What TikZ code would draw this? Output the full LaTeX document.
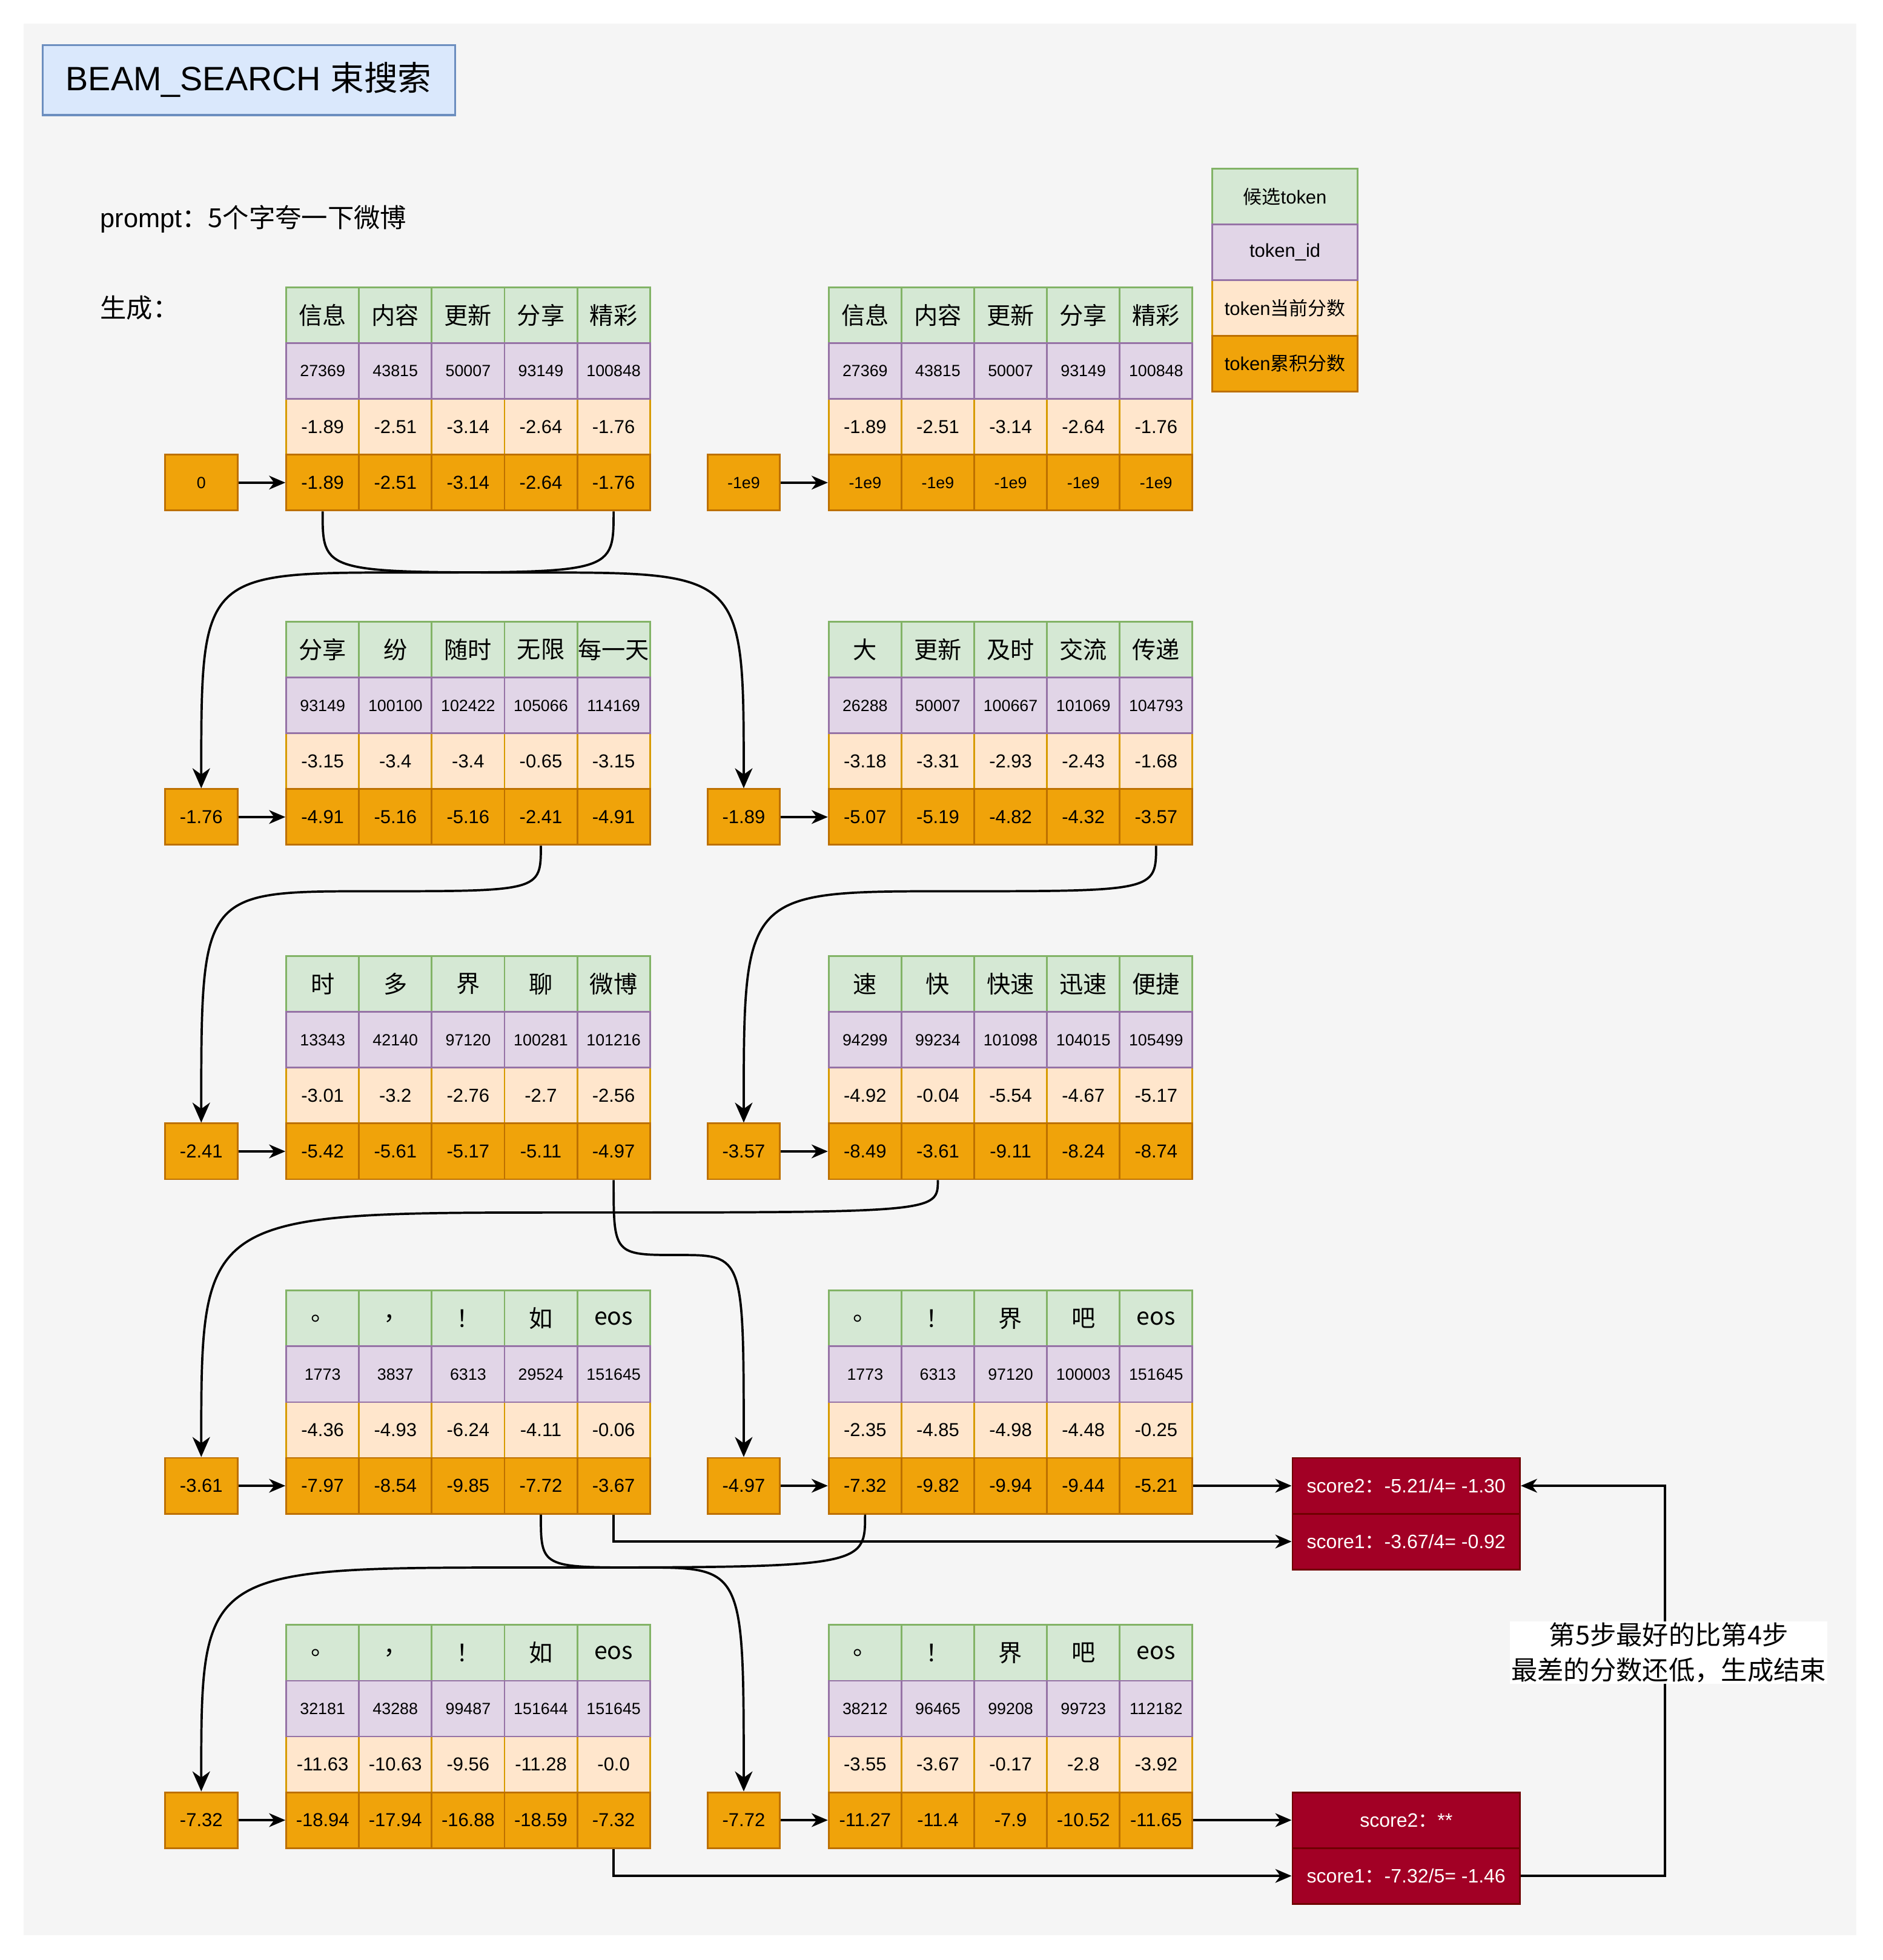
\documentclass[tikz,border=0pt]{standalone}
\usepackage{fontspec}
\setmainfont{Liberation Sans}
\newfontfamily\cjk{Noto Sans CJK SC}
\usetikzlibrary{arrows.meta,calc}

\definecolor{tokfill}{HTML}{D5E8D4}
\definecolor{tokline}{HTML}{82B366}
\definecolor{idfill}{HTML}{E1D5E7}
\definecolor{idline}{HTML}{9673A6}
\definecolor{curfill}{HTML}{FFE6CC}
\definecolor{curline}{HTML}{D79B00}
\definecolor{accfill}{HTML}{F0A30A}
\definecolor{accline}{HTML}{BD7000}
\definecolor{scorefill}{HTML}{A20025}
\definecolor{scoreline}{HTML}{6F0000}
\definecolor{titlefill}{HTML}{DAE8FC}
\definecolor{titleline}{HTML}{6C8EBF}
\definecolor{bgc}{HTML}{F5F5F5}

\newcommand{\curvelink}[3]{%
  \draw[curv] (#1.south) .. controls (#1.south |- 0,#3) .. ($(#1.south |- 0,#3)!0.5!(#2.north |- 0,#3)$) .. controls (#2.north |- 0,#3) .. (#2.north);}

\begin{document}
\begin{tikzpicture}[x=1pt,y=1pt,
  box/.style={draw,line width=1.4pt,inner sep=0pt,minimum width=58.2pt,minimum height=44.6pt,font=\fontsize{15}{18}\selectfont},
  tok/.style={box,fill=tokfill,draw=tokline,font=\fontsize{19}{21}\selectfont\cjk},
  tid/.style={box,fill=idfill,draw=idline,font=\fontsize{13}{15}\selectfont},
  cur/.style={box,fill=curfill,draw=curline},
  acc/.style={box,fill=accfill,draw=accline},
  startbox/.style={acc,minimum width=58pt},
  score/.style={box,fill=scorefill,draw=scoreline,text=white,minimum width=182pt,font=\fontsize{15.5}{18}\selectfont},
  legend/.style={box,minimum width=116pt,minimum height=44.5pt},
  arr/.style={line width=1.8pt,-{Stealth[length=13pt,width=11pt,inset=4pt]}},
  curv/.style={line width=1.8pt,-{Stealth[length=16pt,width=14pt,inset=5pt]}}]
                \useasboundingbox (0,0) rectangle (1506,-1568);
                \fill[bgc] (19,-19) rectangle (1485,-1548);

                \node[draw=titleline,fill=titlefill,line width=1.6pt,minimum width=330pt,minimum height=56pt,font=\fontsize{27}{30}\selectfont] at (199,-64) (title) {BEAM\_SEARCH {\cjk 束搜索}};
                \node[anchor=west,inner sep=0pt,font=\fontsize{21}{24}\selectfont] at (80,-175) (prompt) {prompt{\cjk ：5个字夸一下微博}};
                \node[anchor=west,inner sep=0pt,font=\fontsize{21}{24}\selectfont\cjk] at (80,-246) (gen) {生成：};

                \node[legend,fill=tokfill,draw=tokline] at (1028,-157.3) (lg1) {{\cjk 候选}token};
                \node[legend,fill=curfill,draw=curline] at (1028,-246.3) (lg3) {token{\cjk 当前分数}};
                \node[legend,fill=idfill,draw=idline] at (1028,-201.8) (lg2) {token\_id};
                \node[legend,fill=accfill,draw=accline] at (1028,-290.8) (lg4) {token{\cjk 累积分数}};

                \foreach \lbl [count=\col] in {信息,内容,更新,分享,精彩} \node[tok] at (199.9+58.2*\col,-252.3) (l1t\col) {\lbl};
                \foreach \lbl [count=\col] in {-1.89,-2.51,-3.14,-2.64,-1.76} \node[cur] at (199.9+58.2*\col,-341.5) (l1c\col) {\lbl};
                \foreach \lbl [count=\col] in {27369,43815,50007,93149,100848} \node[tid] at (199.9+58.2*\col,-296.9) (l1i\col) {\lbl};
                \foreach \lbl [count=\col] in {-1.89,-2.51,-3.14,-2.64,-1.76} \node[acc] at (199.9+58.2*\col,-386.1) (l1a\col) {\lbl};

                \foreach \lbl [count=\col] in {信息,内容,更新,分享,精彩} \node[tok] at (633.9+58.2*\col,-252.3) (r1t\col) {\lbl};
                \foreach \lbl [count=\col] in {-1.89,-2.51,-3.14,-2.64,-1.76} \node[cur] at (633.9+58.2*\col,-341.5) (r1c\col) {\lbl};
                \foreach \lbl [count=\col] in {27369,43815,50007,93149,100848} \node[tid] at (633.9+58.2*\col,-296.9) (r1i\col) {\lbl};
                \foreach \lbl [count=\col] in {-1e9,-1e9,-1e9,-1e9,-1e9} \node[acc,font=\fontsize{13}{15}\selectfont] at (633.9+58.2*\col,-386.1) (r1a\col) {\lbl};

                \foreach \lbl [count=\col] in {分享,纷,随时,无限,每一天} \node[tok] at (199.9+58.2*\col,-519.8) (l2t\col) {\lbl};
                \foreach \lbl [count=\col] in {-3.15,-3.4,-3.4,-0.65,-3.15} \node[cur] at (199.9+58.2*\col,-609) (l2c\col) {\lbl};
                \foreach \lbl [count=\col] in {93149,100100,102422,105066,114169} \node[tid] at (199.9+58.2*\col,-564.4) (l2i\col) {\lbl};
                \foreach \lbl [count=\col] in {-4.91,-5.16,-5.16,-2.41,-4.91} \node[acc] at (199.9+58.2*\col,-653.6) (l2a\col) {\lbl};

                \foreach \lbl [count=\col] in {大,更新,及时,交流,传递} \node[tok] at (633.9+58.2*\col,-519.8) (r2t\col) {\lbl};
                \foreach \lbl [count=\col] in {-3.18,-3.31,-2.93,-2.43,-1.68} \node[cur] at (633.9+58.2*\col,-609) (r2c\col) {\lbl};
                \foreach \lbl [count=\col] in {26288,50007,100667,101069,104793} \node[tid] at (633.9+58.2*\col,-564.4) (r2i\col) {\lbl};
                \foreach \lbl [count=\col] in {-5.07,-5.19,-4.82,-4.32,-3.57} \node[acc] at (633.9+58.2*\col,-653.6) (r2a\col) {\lbl};

                \foreach \lbl [count=\col] in {时,多,界,聊,微博} \node[tok] at (199.9+58.2*\col,-787.3) (l3t\col) {\lbl};
                \foreach \lbl [count=\col] in {-3.01,-3.2,-2.76,-2.7,-2.56} \node[cur] at (199.9+58.2*\col,-876.5) (l3c\col) {\lbl};
                \foreach \lbl [count=\col] in {13343,42140,97120,100281,101216} \node[tid] at (199.9+58.2*\col,-831.9) (l3i\col) {\lbl};
                \foreach \lbl [count=\col] in {-5.42,-5.61,-5.17,-5.11,-4.97} \node[acc] at (199.9+58.2*\col,-921.1) (l3a\col) {\lbl};

                \foreach \lbl [count=\col] in {速,快,快速,迅速,便捷} \node[tok] at (633.9+58.2*\col,-787.3) (r3t\col) {\lbl};
                \foreach \lbl [count=\col] in {-4.92,-0.04,-5.54,-4.67,-5.17} \node[cur] at (633.9+58.2*\col,-876.5) (r3c\col) {\lbl};
                \foreach \lbl [count=\col] in {94299,99234,101098,104015,105499} \node[tid] at (633.9+58.2*\col,-831.9) (r3i\col) {\lbl};
                \foreach \lbl [count=\col] in {-8.49,-3.61,-9.11,-8.24,-8.74} \node[acc] at (633.9+58.2*\col,-921.1) (r3a\col) {\lbl};

                \foreach \lbl [count=\col] in {。,，,！,如,eos} \node[tok] at (199.9+58.2*\col,-1054.8) (l4t\col) {\lbl};
                \foreach \lbl [count=\col] in {-4.36,-4.93,-6.24,-4.11,-0.06} \node[cur] at (199.9+58.2*\col,-1144) (l4c\col) {\lbl};
                \foreach \lbl [count=\col] in {1773,3837,6313,29524,151645} \node[tid] at (199.9+58.2*\col,-1099.4) (l4i\col) {\lbl};
                \foreach \lbl [count=\col] in {-7.97,-8.54,-9.85,-7.72,-3.67} \node[acc] at (199.9+58.2*\col,-1188.6) (l4a\col) {\lbl};

                \foreach \lbl [count=\col] in {。,！,界,吧,eos} \node[tok] at (633.9+58.2*\col,-1054.8) (r4t\col) {\lbl};
                \foreach \lbl [count=\col] in {-2.35,-4.85,-4.98,-4.48,-0.25} \node[cur] at (633.9+58.2*\col,-1144) (r4c\col) {\lbl};
                \foreach \lbl [count=\col] in {1773,6313,97120,100003,151645} \node[tid] at (633.9+58.2*\col,-1099.4) (r4i\col) {\lbl};
                \foreach \lbl [count=\col] in {-7.32,-9.82,-9.94,-9.44,-5.21} \node[acc] at (633.9+58.2*\col,-1188.6) (r4a\col) {\lbl};

                \foreach \lbl [count=\col] in {。,，,！,如,eos} \node[tok] at (199.9+58.2*\col,-1322.3) (l5t\col) {\lbl};
                \foreach \lbl [count=\col] in {-11.63,-10.63,-9.56,-11.28,-0.0} \node[cur] at (199.9+58.2*\col,-1411.5) (l5c\col) {\lbl};
                \foreach \lbl [count=\col] in {32181,43288,99487,151644,151645} \node[tid] at (199.9+58.2*\col,-1366.9) (l5i\col) {\lbl};
                \foreach \lbl [count=\col] in {-18.94,-17.94,-16.88,-18.59,-7.32} \node[acc] at (199.9+58.2*\col,-1456.1) (l5a\col) {\lbl};

                \foreach \lbl [count=\col] in {。,！,界,吧,eos} \node[tok] at (633.9+58.2*\col,-1322.3) (r5t\col) {\lbl};
                \foreach \lbl [count=\col] in {-3.55,-3.67,-0.17,-2.8,-3.92} \node[cur] at (633.9+58.2*\col,-1411.5) (r5c\col) {\lbl};
                \foreach \lbl [count=\col] in {38212,96465,99208,99723,112182} \node[tid] at (633.9+58.2*\col,-1366.9) (r5i\col) {\lbl};
                \foreach \lbl [count=\col] in {-11.27,-11.4,-7.9,-10.52,-11.65} \node[acc] at (633.9+58.2*\col,-1456.1) (r5a\col) {\lbl};

                \node[startbox,font=\fontsize{13}{15}\selectfont] at (161,-386.1) (l1s) {0};
                \node[startbox,font=\fontsize{13}{15}\selectfont] at (595,-386.1) (r1s) {-1e9};
                \node[startbox] at (161,-653.6) (l2s) {-1.76};
                \node[startbox] at (595,-653.6) (r2s) {-1.89};
                \node[startbox] at (161,-921.1) (l3s) {-2.41};
                \node[startbox] at (595,-921.1) (r3s) {-3.57};
                \node[startbox] at (161,-1188.6) (l4s) {-3.61};
                \node[startbox] at (595,-1188.6) (r4s) {-4.97};
                \node[startbox] at (161,-1456.1) (l5s) {-7.32};
                \node[startbox] at (595,-1456.1) (r5s) {-7.72};

                \node[score] at (1125,-1188.6) (s4a) {score2{\cjk ：}-5.21/4= -1.30};
                \node[score] at (1125,-1233.2) (s4b) {score1{\cjk ：}-3.67/4= -0.92};
                \node[score] at (1125,-1456.1) (s5a) {score2{\cjk ：}**};
                \node[score] at (1125,-1500.7) (s5b) {score1{\cjk ：}-7.32/5= -1.46};

                \foreach \row in {1,...,5} {
                  \draw[arr] (l\row s) -- (l\row a1);
                  \draw[arr] (r\row s) -- (r\row a1);
                }

                \curvelink{l1a1}{r2s}{-458}
                \curvelink{l1a5}{l2s}{-458}
                \curvelink{l2a4}{l3s}{-713}
                \curvelink{r2a5}{r3s}{-713}
                \curvelink{r3a2}{l4s}{-970}
                \curvelink{l3a5}{r4s}{-1004}
                \curvelink{l4a4}{r5s}{-1254}
                \curvelink{r4a1}{l5s}{-1254}

                \draw[arr] (r4a5) -- (s4a);
                \draw[arr] (l4a5.south) |- (s4b.west);
                \draw[arr] (r5a5) -- (s5a);
                \draw[arr] (l5a5.south) |- (s5b.west);

                \coordinate (turn) at (1332,-1344);
                \draw[arr] (s5b.east) -| (turn) |- (s4a.east);
                \node[fill=white,inner sep=1pt,align=center,font=\fontsize{21}{28}\selectfont\cjk] at (1335,-1322) (note) {第5步最好的比第4步\\最差的分数还低，生成结束};
            \end{tikzpicture}
\end{document}
